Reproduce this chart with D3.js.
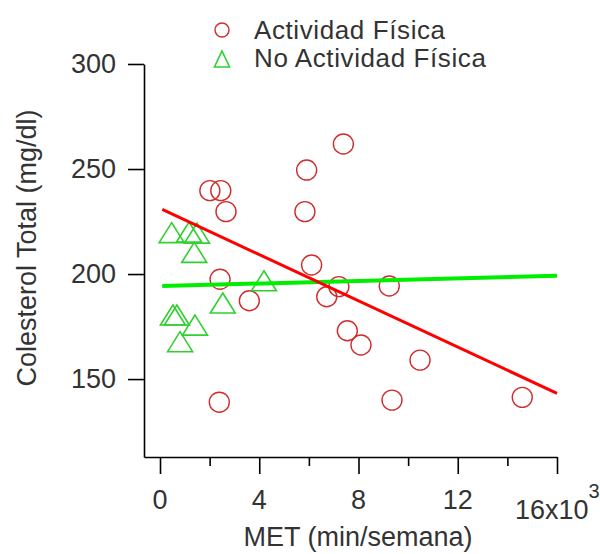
<!DOCTYPE html>
<html>
<head>
<meta charset="utf-8">
<script src="https://cdn.jsdelivr.net/npm/d3@7"></script>
<style>
  body { margin: 0; background: #fff; }
  text { font-family: "Liberation Sans", Arial, sans-serif; fill: #333; }
</style>
</head>
<body>
<div id="canvas"></div>
<script>
"use strict"

// data, MET in thousands of min/semana
let activoMet = [2.01, 2.45, 2.66, 5.84, 5.91, 7.39, 6.11, 2.42, 3.60, 6.72, 7.21, 9.24, 7.55, 8.10, 10.48, 2.39, 9.35, 14.6]
let activoCol = [239.7, 239.7, 229.7, 229.7, 249.5, 261.9, 204.3, 197.5, 187.3, 189.2, 194, 194.3, 173, 166.2, 159, 139, 140, 141.3]

let inactivoMet = [0.47, 1.17, 1.49, 1.38, 2.53, 4.19, 0.52, 0.68, 1.41, 0.81]
let inactivoCol = [219.7, 220, 219.5, 210.3, 186.2, 196.8, 180.5, 180.5, 175.7, 167.8]

// fitted lines, end points
let fitMet = [0.09, 16]
let activoFit = [230.8, 143.2]
let inactivoFit = [194.3, 199.2]

let xMajor = [0, 4, 8, 12]
let xMinor = [2, 6, 10, 14]
let yTicks = [150, 200, 250, 300]

let drawing = d3.select("#canvas")
    .append("svg")
    .attr("width", 600)
    .attr("height", 554)

let x = d3.scaleLinear().domain([-0.645, 16]).range([144, 557])
let y = d3.scaleLinear().domain([112.9, 300]).range([457, 64])

// y axis
let yAxis = drawing.append("g")
    .attr("transform", "translate(144,0)")
    .call(d3.axisLeft(y).tickValues(yTicks).tickSize(16).tickSizeOuter(0).tickPadding(12))
yAxis.selectAll("path, line").attr("stroke", "#000").attr("stroke-width", 1.6)
yAxis.selectAll("text").style("font-size", "27px").attr("fill", "#333")

// x axis
let xAxis = drawing.append("g")
    .attr("transform", "translate(0,457)")
    .call(d3.axisBottom(x).tickValues(xMajor.concat([16])).tickSize(17).tickSizeOuter(0).tickFormat(""))
xAxis.selectAll("path, line").attr("stroke", "#000").attr("stroke-width", 1.6)

let xMinorAxis = drawing.append("g")
    .attr("transform", "translate(0,457)")
    .call(d3.axisBottom(x).tickValues(xMinor).tickSize(9).tickFormat(""))
xMinorAxis.select("path").remove()
xMinorAxis.selectAll("line").attr("stroke", "#000").attr("stroke-width", 1.6)

drawing.selectAll(".xlabel")
    .data(xMajor)
    .enter()
    .append("text")
    .attr("x", d => x(d))
    .attr("y", 509)
    .attr("text-anchor", "middle")
    .style("font-size", "27px")
    .text(d => d)

let lastLabel = drawing.append("text") // 16x10^3
    .attr("x", 515)
    .attr("y", 519)
    .style("font-size", "27px")
lastLabel.append("tspan").text("16x10")
lastLabel.append("tspan").attr("dy", -21).style("font-size", "20px").text("3")

// axis titles
drawing.append("text")
    .attr("x", 358)
    .attr("y", 546)
    .attr("text-anchor", "middle")
    .style("font-size", "27px")
    .text("MET (min/semana)")

drawing.append("text")
    .attr("transform", "translate(36,248) rotate(-90)")
    .attr("text-anchor", "middle")
    .style("font-size", "27px")
    .text("Colesterol Total (mg/dl)")

// markers
let triangle = "M0,-10L12.5,10L-12.5,10Z"

drawing.selectAll(".activo")
    .data(activoMet)
    .enter()
    .append("circle")
    .attr("cx", d => x(d))
    .attr("cy", (d, i) => y(activoCol[i]))
    .attr("r", 10)
    .attr("fill", "none")
    .attr("stroke", "#d02c2c")
    .attr("stroke-width", 1.4)

drawing.selectAll(".inactivo")
    .data(inactivoMet)
    .enter()
    .append("path")
    .attr("d", triangle)
    .attr("transform", (d, i) => "translate(" + x(d) + "," + y(inactivoCol[i]) + ")")
    .attr("fill", "none")
    .attr("stroke", "#2fd02f")
    .attr("stroke-width", 1.6)

// fitted lines
let line = d3.line()
    .x(d => x(d[0]))
    .y(d => y(d[1]))

drawing.append("path")
    .attr("d", line(fitMet.map((m, i) => [m, inactivoFit[i]])))
    .attr("stroke", "#00ee00")
    .attr("stroke-width", 4)
    .attr("fill", "none")

drawing.append("path")
    .attr("d", line(fitMet.map((m, i) => [m, activoFit[i]])))
    .attr("stroke", "#ff0000")
    .attr("stroke-width", 3)
    .attr("fill", "none")

// legend
drawing.append("circle")
    .attr("cx", 222)
    .attr("cy", 30)
    .attr("r", 7)
    .attr("fill", "none")
    .attr("stroke", "#d02c2c")
    .attr("stroke-width", 1.4)

drawing.append("path")
    .attr("d", "M0,-8L7.5,8L-7.5,8Z")
    .attr("transform", "translate(222,59)")
    .attr("fill", "none")
    .attr("stroke", "#2fd02f")
    .attr("stroke-width", 1.6)

drawing.append("text")
    .attr("x", 254)
    .attr("y", 39)
    .style("font-size", "26px")
    .style("letter-spacing", "0.6px")
    .text("Actividad Física")

drawing.append("text")
    .attr("x", 254)
    .attr("y", 67)
    .style("font-size", "26px")
    .style("letter-spacing", "0.6px")
    .text("No Actividad Física")
</script>
</body>
</html>
